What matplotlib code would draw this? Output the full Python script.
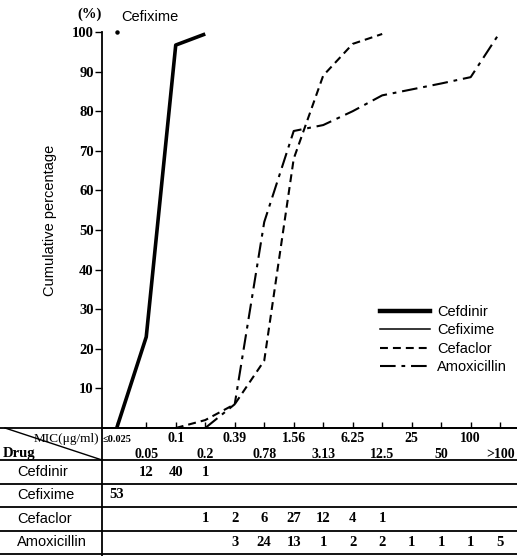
import matplotlib
matplotlib.use("Agg")
import matplotlib.pyplot as plt
from matplotlib.lines import Line2D
from matplotlib.transforms import blended_transform_factory

# MIC classes (ug/ml) used as the x axis and as table columns
mic_labels = ["≤0.025", "0.05", "0.1", "0.2", "0.39", "0.78", "1.56",
              "3.13", "6.25", "12.5", "25", "50", "100", ">100"]

# number of strains per MIC class (None = empty cell)
drugs = ["Cefdinir", "Cefixime", "Cefaclor", "Amoxicillin"]
cefdinir_n = [None, 12, 40, 1]
cefixime_n = [53]
cefaclor_n = [None, None, None, 1, 2, 6, 27, 12, 4, 1]
amoxicillin_n = [None, None, None, None, 3, 24, 13, 1, 2, 2, 1, 1, 1, 5]

# cumulative percentage (x = MIC class index)
cefdinir_x = [0, 1, 2, 3]
cefdinir_y = [0, 23, 96.7, 99.5]
cefixime_x = [0]
cefixime_y = [100]
cefaclor_x = [2, 3, 4, 5, 6, 7, 8, 9]
cefaclor_y = [0, 2, 6, 17, 68, 89, 97, 99.5]
amoxicillin_x = [3, 4, 5, 6, 7, 8, 9, 10, 11, 12, 13]
amoxicillin_y = [0, 6, 52, 75, 76.5, 80, 84, 85.5, 87, 88.6, 100]

SERIF = "Liberation Serif"
SANS = "Liberation Sans"

W, H = 517, 556
fig = plt.figure(figsize=(W / 100, H / 100), dpi=100)

# main plot
ax = fig.add_axes([102 / W, 1 - 428 / H, 415 / W, 396 / H])
ax.set_xlim(-0.5, 13.57)
ax.set_ylim(0, 100)

styles = {
    "Cefdinir": dict(color="black", lw=2.6, ls="-"),
    "Cefixime": dict(color="black", lw=1.1, ls="-"),
    "Cefaclor": dict(color="black", lw=1.5, ls=(0, (3.8, 2.4))),
    "Amoxicillin": dict(color="black", lw=1.5, ls=(0, (7.5, 2.8, 1.8, 2.8))),
}

ax.plot(cefdinir_x, cefdinir_y, clip_on=False, solid_capstyle="butt", **styles["Cefdinir"])
ax.plot(cefixime_x, cefixime_y, "o", color="black", ms=2.2, clip_on=False)
ax.plot(cefaclor_x, cefaclor_y, clip_on=False, **styles["Cefaclor"])
ax.plot(amoxicillin_x, amoxicillin_y, clip_on=False, **styles["Amoxicillin"])

ax.annotate("Cefixime", xy=(cefixime_x[0], cefixime_y[0]), xytext=(3, 11),
            textcoords="offset points", ha="left", va="center",
            fontsize=10.5, family=SANS)

ax.spines["top"].set_visible(False)
ax.spines["right"].set_visible(False)
ax.spines["left"].set_linewidth(1.3)
ax.spines["bottom"].set_linewidth(1.3)

ax.set_yticks(range(10, 101, 10))
ax.tick_params(axis="y", direction="out", length=5, width=1, pad=1,
               labelsize=10.5, labelfontfamily=SERIF)
for t in ax.get_yticklabels():
    t.set_fontweight("bold")
ax.set_xticks(range(len(mic_labels)))
ax.set_xticklabels([])
ax.tick_params(axis="x", direction="in", length=4, width=1)

ax.text(-0.125, 0.525, "Cumulative percentage", transform=ax.transAxes,
        rotation=90, ha="center", va="center", fontsize=10.5, family=SANS)
ax.text(-0.03, 1.045, "(%)", transform=ax.transAxes, ha="center", va="center",
        fontsize=10.5, family=SERIF, fontweight="bold")

handles = [Line2D([], [], **styles[d]) for d in drugs]
handles[0].set_linewidth(3.2)
ax.legend(handles, drugs, loc="upper left", bbox_to_anchor=(380 / W, 1 - 305 / H),
          bbox_transform=fig.transFigure, frameon=False, handlelength=3.4,
          handletextpad=0.5, labelspacing=0.3, borderpad=0, borderaxespad=0,
          prop={"family": SANS, "size": 10.5})

# table under the plot (y in pixels from the top of the figure)
tab = fig.add_axes([0, 0, 1, 128 / H])
tab.set_xlim(0, W)
tab.set_ylim(H, 428)
tab.axis("off")
trans = blended_transform_factory(ax.transData, tab.transData)

for yl in [428, 460, 484, 507, 531, 554]:
    tab.plot([0, W], [yl, yl], color="black", lw=1.3, clip_on=False)
tab.plot([102, 102], [428, 556], color="black", lw=1.3, clip_on=False)
tab.plot([5, 102], [428, 460], color="black", lw=1.0, clip_on=False)

tab.text(99, 439, "MIC(μg/ml)", ha="right", va="center", fontsize=9.5, family=SERIF)
tab.text(3, 453, "Drug", ha="left", va="center", fontsize=10.5, family=SERIF,
         fontweight="bold")

for i, lab in enumerate(mic_labels):
    yc = 439 if i % 2 == 0 else 454
    fs = 7.5 if i == 0 else 10
    tab.text(i, yc, lab, transform=trans, ha="center", va="center",
             fontsize=fs, family=SERIF, fontweight="bold")

rows = [cefdinir_n, cefixime_n, cefaclor_n, amoxicillin_n]
row_y = [472, 495, 519, 542]
for name, counts, yc in zip(drugs, rows, row_y):
    tab.text(17, yc, name, ha="left", va="center", fontsize=10.5, family=SANS)
    for i, c in enumerate(counts):
        if c is not None:
            tab.text(i, yc, str(c), transform=trans, ha="center", va="center",
                     fontsize=10.5, family=SERIF, fontweight="bold")

fig.savefig("out.png", dpi=100)
